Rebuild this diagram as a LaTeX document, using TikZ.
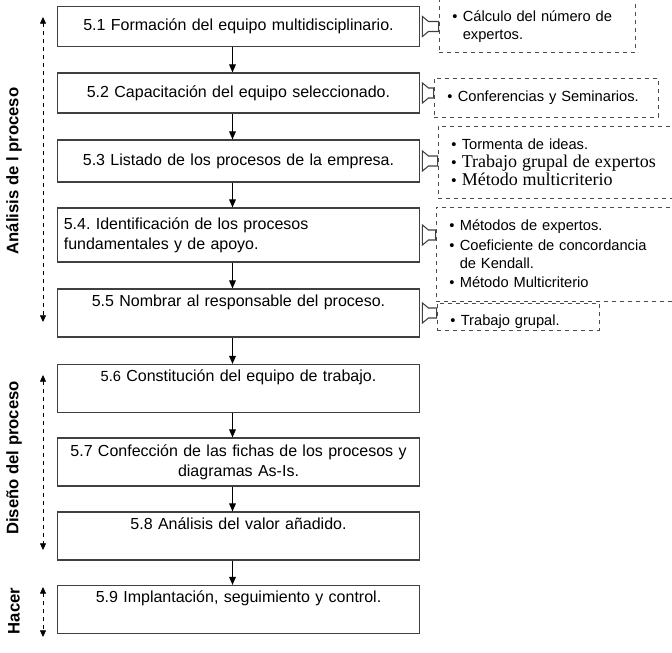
\documentclass[tikz,border=0pt]{standalone}
\usepackage{fontspec}
\setmainfont{Liberation Sans}
\newfontfamily\romana{Liberation Serif}
\usetikzlibrary{arrows.meta,calc}

\newcommand{\punto}{\textbullet\hspace{4pt}}
\newcommand{\sangria}{\hphantom{\textbullet}\hspace{4pt}}
% flecha hueca desde la caja de métodos hasta la caja del paso
\newcommand{\flechahueca}[2]{%
  \draw[draw=black!75, line width=0.8pt, fill=white]
    ($(#1.east)+(2,-10)$) -- ($(#1.east)+(2,10)$) -- ($(#1.east)+(8,5)$)
    -- ($(#2.west |- #1.east)+(0,5)$) -- ($(#2.west |- #1.east)+(0,-5)$)
    -- ($(#1.east)+(8,-5)$) -- cycle;}

\begin{document}
\begin{tikzpicture}[x=0.75pt, y=-0.75pt]
  \tikzset{
    caja/.style={draw=black!75, line width=0.9pt, minimum width=272pt, align=center, text width=262pt, font=\fontsize{12}{15}\selectfont},
    caja_alta/.style={caja, text depth=19pt},
    metodo/.style={draw=black!70, dashed, line width=0.7pt, inner xsep=10pt, align=left, font=\fontsize{11}{13.5}\selectfont},
    flecha/.style={-{Triangle[length=6pt, width=5pt]}, line width=0.8pt},
    rango/.style={dashed, line width=0.6pt, {Triangle[length=5pt, width=4.5pt]}-{Triangle[length=5pt, width=4.5pt]}},
    fase/.style={rotate=90, font=\bfseries\fontsize{12.5}{14}\selectfont}
  }
  \useasboundingbox (0,0) rectangle (672,653);

  % Pasos del procedimiento
  \node[caja, minimum height=30pt] (p1) at (238.5,26.5) {5.1 Formación del equipo multidisciplinario.};
  \node[caja, minimum height=30pt] (p2) at (238.5,93) {5.2 Capacitación del equipo seleccionado.};
  \node[caja, minimum height=31.5pt] (p3) at (238.5,161) {5.3 Listado de los procesos de la empresa.};
  \node[caja, minimum height=40.5pt, align=left] (p4) at (238.5,235) {5.4.\ Identificación de los procesos\\fundamentales y de apoyo.};
  \node[caja_alta, minimum height=36pt] (p5) at (238.5,313) {5.5 Nombrar al responsable del proceso.};
  \node[caja_alta, minimum height=36pt] (p6) at (238.5,388.5) {{\fontsize{11}{15}\selectfont 5.6} Constitución del equipo de trabajo.};
  \node[caja, minimum height=36pt] (p7) at (238.5,462) {5.7 Confección de las fichas de los procesos y\\diagramas As-Is.};
  \node[caja_alta, minimum height=36pt] (p8) at (238.5,536) {5.8 Análisis del valor añadido.};
  \node[caja_alta, minimum height=36pt] (p9) at (238.5,609.5) {5.9 Implantación, seguimiento y control.};

  % Flechas entre pasos
  \draw[flecha] ([xshift=-4.5pt]p1.south) -- ([xshift=-4.5pt]p2.north);
  \draw[flecha] ([xshift=-4.5pt]p2.south) -- ([xshift=-4.5pt]p3.north);
  \draw[flecha] ([xshift=-4.5pt]p3.south) -- ([xshift=-4.5pt]p4.north);
  \draw[flecha] ([xshift=-4.5pt]p4.south) -- ([xshift=-4.5pt]p5.north);
  \draw[flecha] ([xshift=-4.5pt]p5.south) -- ([xshift=-4.5pt]p6.north);
  \draw[flecha] ([xshift=-4.5pt]p6.south) -- ([xshift=-4.5pt]p7.north);
  \draw[flecha] ([xshift=-4.5pt]p7.south) -- ([xshift=-4.5pt]p8.north);
  \draw[flecha] ([xshift=-4.5pt]p8.south) -- ([xshift=-4.5pt]p9.north);

  % Métodos y herramientas (cajas discontinuas)
  \node[metodo, minimum width=147pt, minimum height=41.25pt, text width=127pt, text height=12pt] (n1) at (537,24.5)
    {\punto Cálculo del número de\\\sangria expertos.};
  \node[metodo, minimum width=168pt, minimum height=29.25pt, text width=148pt] (n2) at (546,97.5)
    {\punto Conferencias y Seminarios.};
  \node[metodo, minimum width=189pt, minimum height=54pt, text width=169pt] (n3) at (564,162)
    {\punto Tormenta de ideas.\\
     \punto{\romana\fontsize{13.5}{15}\selectfont Trabajo grupal de expertos}\\
     \punto{\romana\fontsize{13.5}{15}\selectfont Método multicriterio}};
  \node[metodo, minimum width=190.5pt, minimum height=70.5pt, text width=170.5pt] (n4) at (563,254)
    {\punto Métodos de expertos.\\[1pt]
     \punto Coeficiente de concordancia\\\sangria de Kendall.\\[1pt]
     \punto Método Multicriterio};
  \node[metodo, minimum width=121.5pt, minimum height=20.25pt, text width=101.5pt, text height=13pt, text depth=0pt] (n5) at (518,316.5)
    {\punto Trabajo grupal.};

  % Flechas huecas
  \flechahueca{p1}{n1}
  \flechahueca{p2}{n2}
  \flechahueca{p3}{n3}
  \flechahueca{p4}{n4}
  \flechahueca{p5}{n5}

  % Fases
  \node[fase] (f1) at (14,171) {Análisis de l proceso};
  \node[fase] (f2) at (14,458) {Diseño del proceso};
  \node[fase] (f3) at (14,611) {Hacer};

  \coordinate (r1a) at (43,17);
  \coordinate (r1b) at (43,322);
  \coordinate (r2a) at (43,375);
  \coordinate (r2b) at (43,550);
  \coordinate (r3a) at (43,587);
  \coordinate (r3b) at (43,637);
  \draw[rango] (r1a) -- (r1b);
  \draw[rango] (r2a) -- (r2b);
  \draw[rango] (r3a) -- (r3b);
\end{tikzpicture}
\end{document}
